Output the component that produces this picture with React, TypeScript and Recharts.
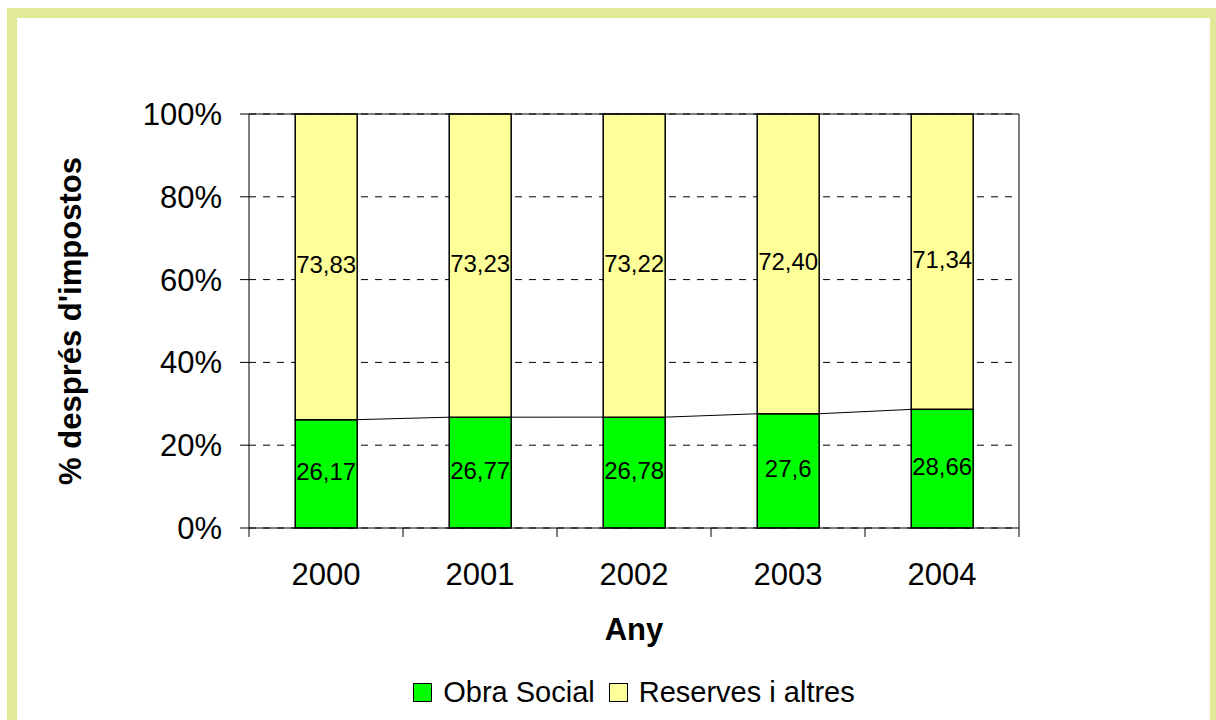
import React from 'react';
import { BarChart, Bar, XAxis, YAxis, CartesianGrid, ReferenceLine, LabelList, Label } from 'recharts';

const years = ['2000', '2001', '2002', '2003', '2004'];
const obraSocial = [26.17, 26.77, 26.78, 27.6, 28.66];
const reserves = [73.83, 73.23, 73.22, 72.4, 71.34];
const obraSocialLabels = ['26,17', '26,77', '26,78', '27,6', '28,66'];
const reservesLabels = ['73,83', '73,23', '73,22', '72,40', '71,34'];
const yTicks = [0, 0.2, 0.4, 0.6, 0.8, 1];
const seriesNames = ['Obra Social', 'Reserves i altres'];

const data = years.map((year, i) => ({
  year,
  obra: obraSocial[i],
  reserves: reserves[i],
  obraLabel: obraSocialLabels[i],
  reservesLabel: reservesLabels[i],
}));

const W = 1216;
const H = 720;
const PLOT_LEFT = 249;
const PLOT_TOP = 114;
const PLOT_RIGHT = 1019;
const PLOT_BOTTOM = 528;
const PLOT_W = PLOT_RIGHT - PLOT_LEFT;
const GAP = 0.3;
const X_TICK_SIZE = 9;
const X_TICK_MARGIN = 26;
const FONT = '"Liberation Sans", Arial, Helvetica, sans-serif';
const GREEN = '#00FF00';
const YELLOW = '#FFFF99';

const ObraShape = (props: any) => {
  const { x, y, width, height, index, fill } = props;
  const frac = obraSocial[index] / (obraSocial[index] + reserves[index]);
  const bottom = y + height;
  const full = frac > 0 ? height / frac : 0;
  let line = null;
  if (index < data.length - 1) {
    const nf = obraSocial[index + 1] / (obraSocial[index + 1] + reserves[index + 1]);
    const nx = x + width / (1 - 2 * GAP);
    const ny = bottom - full * nf;
    line = <line x1={x + width} y1={y} x2={nx} y2={ny} stroke="#000" strokeWidth={1} />;
  }
  return (
    <g>
      <rect x={x} y={y} width={width} height={height} fill={fill} stroke="#000" strokeWidth={1.5} />
      {line}
    </g>
  );
};

const XTick = (props: any) => {
  const { x, y, payload, index } = props;
  const half = payload && payload.offset ? payload.offset : PLOT_W / years.length / 2;
  const axisY = y - X_TICK_SIZE - X_TICK_MARGIN;
  return (
    <g>
      <line x1={x - half} y1={axisY} x2={x - half} y2={axisY + X_TICK_SIZE} stroke="#000" strokeWidth={1} />
      {index === years.length - 1 && (
        <line x1={x + half} y1={axisY} x2={x + half} y2={axisY + X_TICK_SIZE} stroke="#000" strokeWidth={1} />
      )}
      <text x={x} y={y} dy="0.71em" textAnchor="middle" fontSize={31} fill="#000" fontFamily={FONT}>
        {payload.value}
      </text>
    </g>
  );
};

const YTitle = (props: any) => {
  const vb = props.viewBox || { x: 0, y: PLOT_TOP, width: PLOT_LEFT, height: PLOT_BOTTOM - PLOT_TOP };
  const cx = vb.x + 81;
  const cy = vb.y + vb.height / 2;
  return (
    <text
      x={cx}
      y={cy}
      transform={`rotate(-90 ${cx} ${cy})`}
      textAnchor="middle"
      fontSize={31}
      fontWeight="bold"
      fill="#000"
      fontFamily={FONT}
    >
      % després d'impostos
    </text>
  );
};

const XTitle = (props: any) => {
  const vb = props.viewBox || { x: PLOT_LEFT, y: PLOT_BOTTOM, width: PLOT_W, height: H - PLOT_BOTTOM };
  return (
    <text
      x={vb.x + vb.width / 2}
      y={vb.y + 112}
      textAnchor="middle"
      fontSize={31}
      fontWeight="bold"
      fill="#000"
      fontFamily={FONT}
    >
      Any
    </text>
  );
};

export default function App() {
  return (
    <div style={{ position: 'absolute', left: 0, top: 0, width: W, height: H, overflow: 'hidden', background: '#fff' }}>
      <div
        style={{
          position: 'absolute',
          left: 7,
          top: 8,
          width: 1213,
          height: 722,
          boxSizing: 'border-box',
          border: '10px solid #E1EA97',
        }}
      />
      <div style={{ position: 'absolute', left: 0, top: 0 }}>
        <BarChart
          width={W}
          height={H}
          data={data}
          stackOffset="expand"
          barCategoryGap={`${GAP * 100}%`}
          margin={{ top: PLOT_TOP, right: W - PLOT_RIGHT - 1, bottom: 0, left: 0 }}
          style={{ fontFamily: FONT }}
        >
          <CartesianGrid vertical={false} stroke="#000" strokeDasharray="7 7" />
          <XAxis
            dataKey="year"
            height={H - PLOT_BOTTOM}
            tickLine={false}
            tickSize={X_TICK_SIZE}
            tickMargin={X_TICK_MARGIN}
            axisLine={{ stroke: '#000', strokeWidth: 1 }}
            tick={<XTick />}
            interval={0}
            label={<Label content={<XTitle />} />}
          />
          <YAxis
            width={PLOT_LEFT}
            ticks={yTicks}
            domain={[0, 1]}
            interval={0}
            tickFormatter={(v: number) => `${Math.round(v * 100)}%`}
            tick={{ fontSize: 31, fill: '#000', fontFamily: FONT }}
            tickSize={9}
            tickMargin={18}
            tickLine={{ stroke: '#000' }}
            axisLine={{ stroke: '#000', strokeWidth: 1 }}
            label={<Label content={<YTitle />} />}
          />
          <YAxis
            yAxisId="right"
            orientation="right"
            width={1}
            domain={[0, 1]}
            tick={false}
            tickLine={false}
            axisLine={{ stroke: '#000', strokeWidth: 1 }}
          />
          <ReferenceLine y={1} stroke="#000" strokeWidth={1} />
          <Bar
            dataKey="obra"
            stackId="a"
            fill={GREEN}
            name={seriesNames[0]}
            shape={<ObraShape />}
            isAnimationActive={false}
          >
            <LabelList dataKey="obraLabel" position="center" fill="#000" fontSize={24} fontFamily={FONT} dy={-2} />
          </Bar>
          <Bar
            dataKey="reserves"
            stackId="a"
            fill={YELLOW}
            name={seriesNames[1]}
            stroke="#000"
            strokeWidth={1.5}
            isAnimationActive={false}
          >
            <LabelList dataKey="reservesLabel" position="center" fill="#000" fontSize={24} fontFamily={FONT} dy={-2} />
          </Bar>
        </BarChart>
      </div>
      <div
        style={{
          position: 'absolute',
          left: PLOT_LEFT,
          width: PLOT_W,
          top: 678,
          height: 29,
          display: 'flex',
          justifyContent: 'center',
          alignItems: 'center',
          fontFamily: FONT,
          fontSize: 29,
          lineHeight: '29px',
          color: '#000',
        }}
      >
        {seriesNames.map((name, i) => (
          <div key={name} style={{ display: 'flex', alignItems: 'center', marginLeft: i === 0 ? 0 : 14 }}>
            <div
              style={{
                width: 19,
                height: 19,
                boxSizing: 'border-box',
                border: '1.5px solid #000',
                background: i === 0 ? GREEN : YELLOW,
                marginRight: 11,
              }}
            />
            <span>{name}</span>
          </div>
        ))}
      </div>
    </div>
  );
}
